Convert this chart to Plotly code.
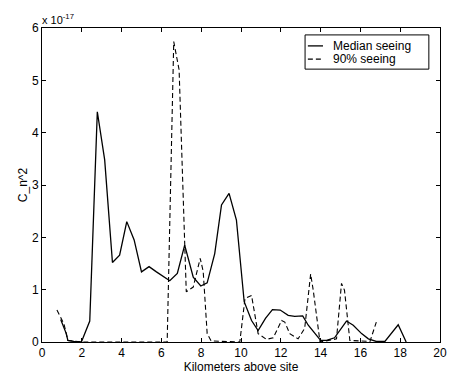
import plotly.graph_objects as go

# Median seeing (solid)
median_km = [0.94, 1.22, 1.3, 1.6, 1.98, 2.4, 2.78, 3.15, 3.54, 3.9, 4.26, 4.63, 5.0, 5.38,
             5.75, 6.1, 6.42, 6.8, 7.17, 7.6, 7.98, 8.3, 8.68, 9.02, 9.4, 9.77, 10.16,
             10.53, 10.86, 11.23, 11.58, 11.97, 12.37, 12.7, 13.1, 13.38, 13.7, 14.0,
             14.3, 14.7, 15.3, 15.64, 16.06, 16.4, 16.8, 17.23, 17.9, 18.3]
median_cn2 = [0.43, 0.16, 0.03, 0.01, 0.0, 0.4, 4.4, 3.48, 1.52, 1.66, 2.3, 1.95, 1.34, 1.44,
              1.34, 1.25, 1.17, 1.31, 1.85, 1.24, 1.07, 1.13, 1.69, 2.62, 2.84, 2.33, 0.77,
              0.41, 0.22, 0.45, 0.62, 0.61, 0.51, 0.49, 0.5, 0.32, 0.16, 0.03,
              0.03, 0.08, 0.4, 0.32, 0.16, 0.06, 0.01, 0.01, 0.33, 0.0]

# 90% seeing (dashed)
p90_km = [0.75, 1.1, 1.3, 2.0, 6.29, 6.62, 6.89, 7.25, 7.6, 7.95, 8.1, 8.3, 8.5, 9.94,
          10.2, 10.53, 10.86, 11.28, 11.62, 12.04, 12.2, 12.45, 12.87, 13.2, 13.5, 13.63,
          13.97, 14.8, 15.05, 15.2, 15.47, 16.48, 16.8]
p90_cn2 = [0.61, 0.35, 0.03, 0.0, 0.0, 5.74, 5.2, 0.96, 1.05, 1.6, 1.35, 0.16, 0.02, 0.0,
           0.83, 0.89, 0.16, 0.05, 0.08, 0.41, 0.38, 0.16, 0.06, 0.26, 1.3, 0.99,
           0.0, 0.06, 1.12, 0.99, 0.03, 0.01, 0.38]

series_names = ["Median seeing", "90% seeing"]
x_ticks = [0, 2, 4, 6, 8, 10, 12, 14, 16, 18, 20]
y_ticks = [0, 1, 2, 3, 4, 5, 6]

FONT = "Liberation Sans, Arial"
SOLID = dict(color="black", width=1.3)
DASHED = dict(color="black", width=1.1, dash="5px,3px")

fig = go.Figure()
fig.add_trace(go.Scatter(x=median_km, y=median_cn2, mode="lines", name=series_names[0],
                         line=SOLID, showlegend=False))
fig.add_trace(go.Scatter(x=p90_km, y=p90_cn2, mode="lines", name=series_names[1],
                         line=DASHED, showlegend=False))

axis_common = dict(showgrid=False, zeroline=False, showline=True, linecolor="black",
                   linewidth=1, mirror="allticks", ticks="inside", ticklen=4,
                   tickcolor="black",
                   tickfont=dict(family=FONT, size=12, color="black"))

fig.update_layout(
    width=465, height=376,
    margin=dict(l=34, r=33, t=20, b=42, autoexpand=False),
    paper_bgcolor="white", plot_bgcolor="white",
    font=dict(family=FONT, size=12, color="black"),
    xaxis=dict(range=[0, 20], tickvals=x_ticks, ticktext=[str(v) for v in x_ticks],
               automargin=False,
               title=dict(text="Kilometers above site", standoff=2,
                          font=dict(size=12)), **axis_common),
    yaxis=dict(range=[0, 6], tickvals=y_ticks, ticktext=[str(v) for v in y_ticks],
               automargin=True,
               title=dict(text="C_n^2", standoff=1, font=dict(size=12)), **axis_common),
    showlegend=False,
)

# exponent label
fig.add_annotation(text="x 10<sup>-17</sup>", xref="paper", yref="paper", x=0.0, y=1.0,
                   xanchor="left", yanchor="bottom", showarrow=False,
                   font=dict(size=11, color="black"), xshift=-2)

# legend box (MATLAB style)
lx0, lx1, ly0, ly1 = 0.661, 0.972, 0.869, 0.978
fig.add_shape(type="rect", xref="paper", yref="paper", x0=lx0, x1=lx1, y0=ly0, y1=ly1,
              line=dict(color="black", width=1), fillcolor="white", layer="above")
for i, (name, style) in enumerate(zip(series_names, [SOLID, DASHED])):
    yy = 0.943 - i * 0.042
    fig.add_shape(type="line", xref="paper", yref="paper", x0=0.668, x1=0.706, y0=yy, y1=yy,
                  line=style, layer="above")
    fig.add_annotation(text=name, xref="paper", yref="paper", x=0.727, y=yy,
                       xanchor="left", yanchor="middle", showarrow=False,
                       font=dict(size=12, color="black"))

fig.write_html("out.html")
